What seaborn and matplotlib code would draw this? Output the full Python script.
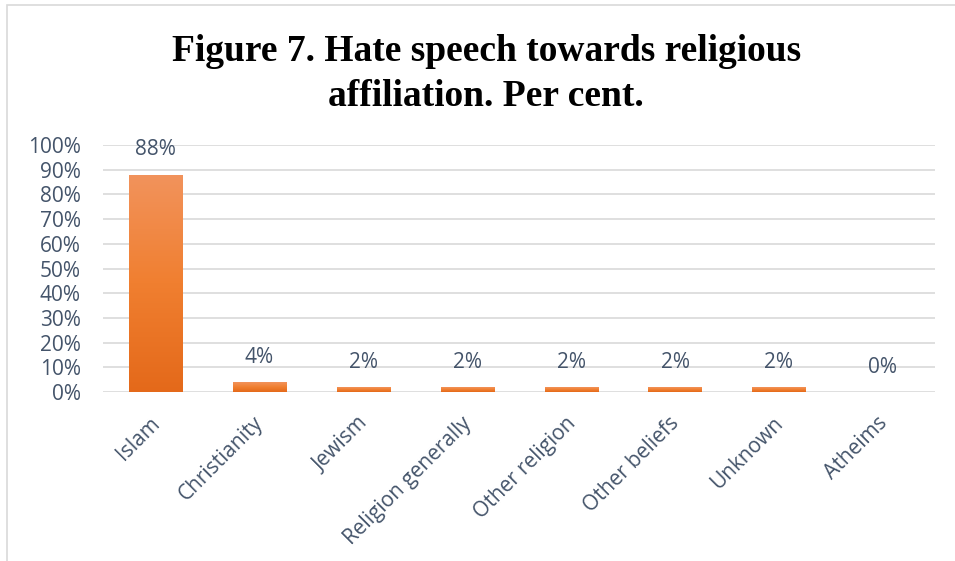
import numpy as np
import pandas as pd
import matplotlib
matplotlib.use("Agg")
import matplotlib.pyplot as plt
import seaborn as sns
from matplotlib.colors import LinearSegmentedColormap
from matplotlib.patches import Rectangle
from matplotlib.transforms import ScaledTranslation

categories = ["Islam", "Christianity", "Jewism", "Religion generally",
              "Other religion", "Other beliefs", "Unknown", "Atheims"]
values = [88, 4, 2, 2, 2, 2, 2, 0]
value_labels = ["88%", "4%", "2%", "2%", "2%", "2%", "2%", "0%"]
y_ticks = [0, 10, 20, 30, 40, 50, 60, 70, 80, 90, 100]
title = "Figure 7. Hate speech towards religious\naffiliation. Per cent."

sns.set_theme(style="white")
plt.rcParams["font.family"] = ["Open Sans", "DejaVu Sans"]

text_color = "#44546A"
grid_color = "#D9D9D9"
fs = 15

df = pd.DataFrame({"category": categories, "value": values})

fig = plt.figure(figsize=(9.55, 5.61), dpi=100)
ax = fig.add_axes([0.108, 0.3012, 0.871, 0.4403])

sns.barplot(data=df, x="category", y="value", ax=ax, color="#ED7D31",
            width=0.51, saturation=1, edgecolor="none")

ax.set_ylim(0, 100)
ax.set_xlim(-0.5, len(categories) - 0.5)
ax.set_yticks(y_ticks)
ax.set_yticklabels([f"{t}%" for t in y_ticks], fontsize=fs, color=text_color)
ax.tick_params(axis="y", length=0, pad=16)
ax.tick_params(axis="x", length=0, pad=15)
ax.set_xticks(range(len(categories)))
ax.set_xticklabels(categories, rotation=45, ha="right", va="top",
                   rotation_mode="anchor", fontsize=15, color=text_color)
shift = ScaledTranslation(-6 / 100, 0, fig.dpi_scale_trans)
for lab in ax.get_xticklabels():
    lab.set_transform(lab.get_transform() + shift)
ax.set_xlabel("")
ax.set_ylabel("")
for s in ax.spines.values():
    s.set_visible(False)
ax.grid(False)
for t in y_ticks:
    ax.axhline(t, color=grid_color, lw=1.2, zorder=0)

# gradient fill on bars
cmap = LinearSegmentedColormap.from_list(
    "og", [(0, "#E4691A"), (0.5, "#F07F30"), (1, "#F2935C")])
grad = np.linspace(0, 1, 256).reshape(-1, 1)
for p in ax.patches:
    h = p.get_height()
    if h <= 0:
        continue
    x0 = p.get_x()
    w = p.get_width()
    im = ax.imshow(grad, cmap=cmap, aspect="auto", origin="lower",
                   extent=[x0, x0 + w, 0, h], zorder=2)
    im.set_clip_path(p)
    p.set_facecolor("none")
ax.set_xlim(-0.5, len(categories) - 0.5)
ax.set_ylim(0, 100)

# value labels
for i, (v, lab) in enumerate(zip(values, value_labels)):
    ax.annotate(lab, (i, v), xytext=(0, 18), textcoords="offset points",
                ha="center", va="center", fontsize=fs, color=text_color)

fig.text(0.509, 0.868, title, ha="center", va="center",
         fontsize=27, fontweight="bold", family="Liberation Serif",
         linespacing=1.38, color="black")

fig.add_artist(Rectangle((7 / 955, -0.1), 1.1, (561 - 5) / 561 + 0.1,
                         transform=fig.transFigure, fill=False,
                         edgecolor="#D9D9D9", lw=1.2))

fig.savefig("out.png", dpi=100)
